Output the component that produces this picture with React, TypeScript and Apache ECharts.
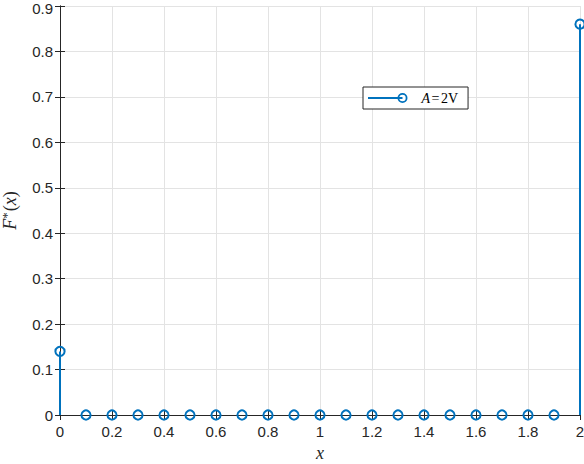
import React, { useEffect, useRef } from "react";
import * as echarts from "echarts";

const xValues = [0, 0.1, 0.2, 0.3, 0.4, 0.5, 0.6, 0.7, 0.8, 0.9, 1.0, 1.1, 1.2, 1.3, 1.4, 1.5, 1.6, 1.7, 1.8, 1.9, 2.0];
const yValues = [0.14, 0, 0, 0, 0, 0, 0, 0, 0, 0, 0, 0, 0, 0, 0, 0, 0, 0, 0, 0, 0.86];
const seriesName = "A=2V";
const xTicks = { min: 0, max: 2, interval: 0.2 };
const yTicks = { min: 0, max: 0.9, interval: 0.1 };

const BLUE = "#0072BD";
const AXIS = "#262626";
const GRID = "#e3e3e3";
const SANS = "Liberation Sans, Arial, sans-serif";
const SERIF = "Liberation Serif, serif";

export default function App() {
  const ref = useRef<HTMLDivElement>(null);
  useEffect(() => {
    if (!ref.current) return;
    const chart = echarts.init(ref.current, null, { renderer: "svg" });
    const data = xValues.map((x, i) => [x, yValues[i]]);
    const axisCommon = {
      axisLine: { show: true, lineStyle: { color: AXIS, width: 1 } },
      axisTick: { show: true, inside: true, length: 5, lineStyle: { color: AXIS, width: 1 } },
    };
    const labelStyle = { color: AXIS, fontSize: 15, fontFamily: SANS };
    chart.setOption({
      animation: false,
      backgroundColor: "#ffffff",
      grid: { left: 60, right: 4, top: 6, bottom: 49, containLabel: false, outerBoundsMode: "none" },
      xAxis: [
        {
          type: "value", position: "bottom", ...xTicks, ...axisCommon,
          axisLabel: { ...labelStyle, margin: 9 },
          splitLine: { show: true, lineStyle: { color: GRID, width: 1 } },
          name: "x", nameLocation: "middle", nameGap: 28,
          nameTextStyle: { fontFamily: SERIF, fontStyle: "italic", fontSize: 18, color: AXIS },
        },
        {
          type: "value", position: "top", ...xTicks, ...axisCommon,
          axisLabel: { show: false }, splitLine: { show: false },
        },
      ],
      yAxis: [
        {
          type: "value", position: "left", ...yTicks, ...axisCommon,
          axisLabel: {
            ...labelStyle, margin: 7,
            formatter: (v: number) => {
              const s = String(Math.round(v * 10) / 10);
              return Math.abs(v - yTicks.max) < 1e-9 ? "{t|" + s + "}" : s;
            },
            rich: {
              t: { fontSize: 15, fontFamily: SANS, color: AXIS, lineHeight: 8, padding: [4, 0, 0, 0] },
            },
          },
          splitLine: { show: true, lineStyle: { color: GRID, width: 1 } },
          name: "{i|F}{s|*}{r|(}{i|x}{r|)}", nameLocation: "middle", nameGap: 40, nameRotate: 90,
          nameTextStyle: {
            color: AXIS,
            rich: {
              i: { fontFamily: SERIF, fontStyle: "italic", fontSize: 18, color: AXIS },
              r: { fontFamily: SERIF, fontSize: 18, color: AXIS },
              s: { fontFamily: SERIF, fontSize: 13, color: AXIS, verticalAlign: "top", padding: [0, 1, 7, 0] },
            },
          },
        },
        {
          type: "value", position: "right", ...yTicks, ...axisCommon,
          axisLabel: { show: false }, splitLine: { show: false },
        },
      ],
      legend: {
        left: 363, top: 87,
        orient: "vertical",
        padding: [4, 10, 4, 5],
        borderColor: AXIS, borderWidth: 1, borderRadius: 0,
        backgroundColor: "#ffffff",
        itemWidth: 39.5, itemHeight: 10, itemGap: 0,
        data: [{
          name: seriesName,
          icon: "path://M0,4.1 L34.5,4.1 L34.5,5.9 L0,5.9 Z M34.5,0 A5,5 0 1,1 34.5,10 A5,5 0 1,1 34.5,0 Z M34.5,1.8 A3.2,3.2 0 1,0 34.5,8.2 A3.2,3.2 0 1,0 34.5,1.8 Z",
          itemStyle: { color: BLUE },
        }],
        formatter: () => "{i|A}{e|=}{r|2V}",
        textStyle: {
          padding: [0, 0, 0, 9],
          rich: {
            i: { fontFamily: SERIF, fontStyle: "italic", fontSize: 14, color: "#000", lineHeight: 16 },
            e: { fontFamily: SERIF, fontSize: 14, color: "#000", lineHeight: 16, padding: [0, 1.5, 0, 1.5] },
            r: { fontFamily: SERIF, fontSize: 14, color: "#000", lineHeight: 16 },
          },
        },
      },
      series: [
        {
          type: "custom",
          name: seriesName,
          xAxisIndex: 0, yAxisIndex: 0,
          clip: false,
          itemStyle: { color: BLUE },
          data,
          renderItem: (params: any, api: any) => {
            const x = api.value(0);
            const y = api.value(1);
            const p0 = api.coord([x, 0]);
            const p1 = api.coord([x, y]);
            return {
              type: "group",
              children: [
                { type: "line", shape: { x1: p0[0], y1: p0[1], x2: p1[0], y2: p1[1] }, style: { stroke: BLUE, lineWidth: 2 } },
                { type: "circle", shape: { cx: p1[0], cy: p1[1], r: 4.6 }, style: { fill: "none", stroke: BLUE, lineWidth: 2 } },
              ],
            };
          },
        },
      ],
    });
    return () => chart.dispose();
  }, []);
  return <div ref={ref} style={{ position: "fixed", left: 0, top: 0, width: 584, height: 464 }} />;
}
